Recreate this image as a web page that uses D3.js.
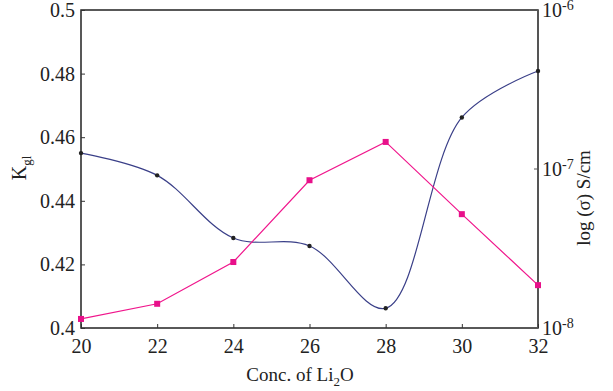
<!DOCTYPE html>
<html>
<head>
<meta charset="utf-8">
<script src="https://cdnjs.cloudflare.com/ajax/libs/d3/7.8.5/d3.min.js"></script>
<style>
body { margin: 0; background: #fff; }
</style>
</head>
<body>
<svg id="chart" width="613" height="391"></svg>
<script>
// Li2O concentration
var conc = [20, 22, 24, 26, 28, 30, 32];
// K_gl values (left axis)
var kgl = [0.455, 0.448, 0.4283, 0.4258, 0.4062, 0.4662, 0.4808];
// conductivity S/cm (right axis, log)
var sigma = [1.14e-8, 1.42e-8, 2.6e-8, 8.5e-8, 1.48e-7, 5.2e-8, 1.86e-8];
var leftTicks = [0.4, 0.42, 0.44, 0.46, 0.48, 0.5];
var rightTicks = [1e-8, 1e-7, 1e-6];
var rightExp = ["-8", "-7", "-6"];

var svg = d3.select('#chart');
var margin = {top: 10, right: 75, bottom: 63, left: 81};
var width = 613, height = 391;
var serif = "'Liberation Serif'";

var x = d3.scaleLinear().domain([20, 32]).range([margin.left, width - margin.right]);
var yL = d3.scaleLinear().domain([0.4, 0.5]).range([height - margin.bottom, margin.top]);
var yR = d3.scaleLog().domain([1e-8, 1e-6]).range([height - margin.bottom, margin.top]);

// frame
svg.append("rect")
    .attr("x", margin.left).attr("y", margin.top)
    .attr("width", x(32) - x(20)).attr("height", yL(0.4) - yL(0.5))
    .attr("fill", "none").attr("stroke", "#222").attr("stroke-width", 1.5);
svg.append("line")
    .attr("x1", x(32)).attr("x2", x(32)).attr("y1", margin.top).attr("y2", yL(0.4))
    .attr("stroke", "#555").attr("stroke-width", 2);

// bottom axis
var gx = svg.append("g")
    .attr("transform", `translate(0,${yL(0.4)})`)
    .call(d3.axisBottom(x).tickValues(conc).tickSize(-4).tickPadding(11).tickFormat(d3.format("d")));
gx.select(".domain").remove();
gx.selectAll("text").style("font-family", serif).style("font-size", "20px").attr("fill", "#222").attr("dy", "0.72em");
gx.selectAll("line").attr("stroke", "#333");

// left axis
var gy = svg.append("g")
    .attr("transform", `translate(${margin.left},0)`)
    .call(d3.axisLeft(yL).tickValues(leftTicks).tickSize(-4).tickPadding(6).tickFormat(d => d3.format("")(+d.toFixed(2))));
gy.select(".domain").remove();
gy.selectAll("text").style("font-family", serif).style("font-size", "20px").attr("fill", "#222");
gy.selectAll("line").attr("stroke", "#333");

// right axis
var gr = svg.append("g").attr("transform", `translate(${x(32)},0)`);
gr.selectAll("line.tk").data([1e-7]).enter().append("line")
    .attr("x1", -4).attr("x2", 0)
    .attr("y1", d => yR(d)).attr("y2", d => yR(d))
    .attr("stroke", "#555");
var rt = gr.selectAll("text.rt").data(rightTicks).enter().append("text")
    .attr("x", 4).attr("y", d => yR(d) + 7)
    .attr("fill", "#222")
    .style("font-family", serif)
    .style("font-size", "20px");
rt.append("tspan").text("10");
rt.append("tspan").text((d, i) => rightExp[i]).attr("dy", -7).style("font-size", "14px");

// axis titles
var xt = svg.append("text")
    .attr("x", 300).attr("y", 381)
    .attr("fill", "#222")
    .style("font-family", serif)
    .attr("text-anchor", "middle").style("font-size", "19px");
xt.append("tspan").text("Conc. of Li");
xt.append("tspan").text("2").attr("dy", 5).style("font-size", "13px");
xt.append("tspan").text("O").attr("dy", -5);

var yt = svg.append("text")
    .attr("transform", "translate(26,168) rotate(-90)")
    .attr("fill", "#222")
    .style("font-family", serif)
    .attr("text-anchor", "middle").style("font-size", "20px");
yt.append("tspan").text("K");
yt.append("tspan").text("gl").attr("dy", 5).style("font-size", "13px");

svg.append("text")
    .attr("transform", "translate(590,198) rotate(-90)")
    .attr("fill", "#222")
    .style("font-family", serif)
    .attr("text-anchor", "middle").style("font-size", "19px")
    .text("log (σ) S/cm");

// K_gl smooth curve
var lineL = d3.line().x((d, i) => x(conc[i])).y(d => yL(d)).curve(d3.curveCatmullRom.alpha(0.5));
svg.append("path").datum(kgl)
    .attr("d", lineL).attr("fill", "none")
    .attr("stroke", "#3a3f88").attr("stroke-width", 1.2);
svg.selectAll("circle.kgl").data(kgl).enter().append("circle")
    .attr("cx", (d, i) => x(conc[i])).attr("cy", d => yL(d))
    .attr("r", 2.2).attr("fill", "#222");

// conductivity
var lineR = d3.line().x((d, i) => x(conc[i])).y(d => yR(d));
svg.append("path").datum(sigma)
    .attr("d", lineR).attr("fill", "none")
    .attr("stroke", "#f0168c").attr("stroke-width", 1.2);
svg.selectAll("rect.sig").data(sigma).enter().append("rect")
    .attr("x", (d, i) => x(conc[i]) - 3).attr("y", d => yR(d) - 3)
    .attr("width", 6).attr("height", 6).attr("fill", "#e8108a");
</script>
</body>
</html>
